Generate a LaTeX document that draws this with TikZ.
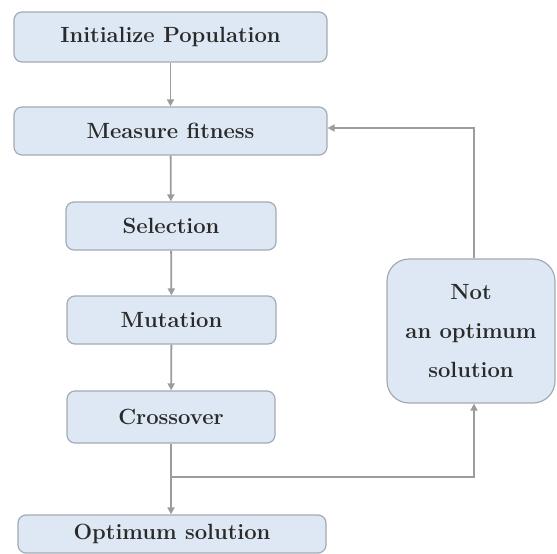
\documentclass[tikz,border=0pt]{standalone}
\usetikzlibrary{arrows.meta}
\definecolor{boxfill}{HTML}{DDE8F4}
\definecolor{boxline}{HTML}{A3ABB3}
\definecolor{linkc}{HTML}{9C9C9C}
\definecolor{txt}{HTML}{2A2A2A}
\tikzset{
  stepbox/.style={draw=boxline, fill=boxfill, line width=1.2pt, rounded corners=8pt,
    inner sep=0pt, font=\fontsize{22}{39}\selectfont\bfseries, text=txt},
  link/.style={draw=linkc, line width=1.8pt, -{Triangle[length=7pt,width=7pt]}},
  plain/.style={draw=linkc, line width=1.8pt}
}
\begin{document}
\begin{tikzpicture}[x=1pt,y=-1pt]
\useasboundingbox (0,0) rectangle (557,554);
\node[stepbox, minimum width=313pt, minimum height=50pt] (init) at (170.5,37) {Initialize Population};
\node[stepbox, minimum width=313pt, minimum height=48pt] (fit) at (170.5,131) {Measure fitness};
\node[stepbox, minimum width=210pt, minimum height=48pt] (sel) at (171,226) {Selection};
\node[stepbox, minimum width=209pt, minimum height=48pt] (mut) at (171.5,320) {Mutation};
\node[stepbox, minimum width=208pt, minimum height=52pt] (cross) at (171,417) {Crossover};
\node[stepbox, minimum width=308pt, minimum height=38pt] (opt) at (172,534) {Optimum solution};
\node[stepbox, rounded corners=22pt, minimum width=168pt, minimum height=144pt, align=center] (notopt) at (471,331) {Not\\an optimum\\solution};
\coordinate (split) at (cross.south |- 0,477);
\coordinate (up) at (474,128);
\draw[link] (init) -- (fit);
\draw[link] (fit) -- (sel);
\draw[link] (sel) -- (mut);
\draw[link] (mut) -- (cross);
\draw[plain] (cross.south) -- (split);
\draw[link] (split) -- (opt.north -| split);
\draw[link] (split) -| (notopt.south -| up);
\draw[link] (notopt.north -| up) |- (fit.east |- up);
\end{tikzpicture}
\end{document}
